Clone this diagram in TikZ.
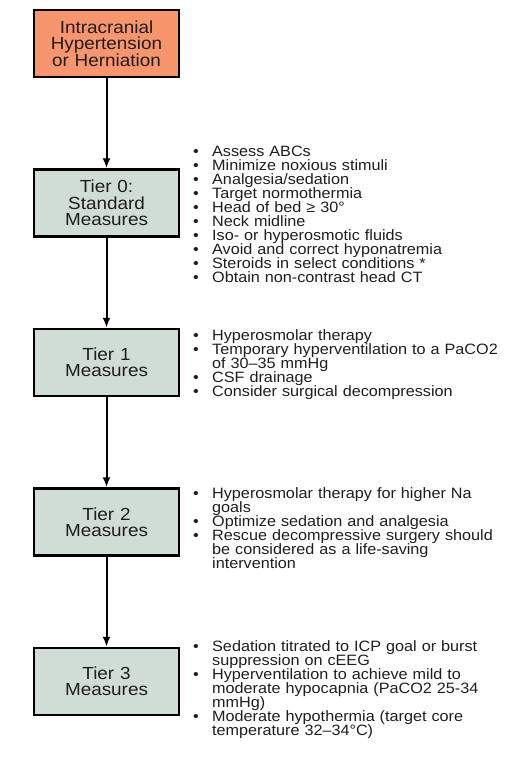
\documentclass[tikz,border=0pt]{standalone}
\usepackage{fontspec}
\setmainfont{Liberation Sans}[FakeStretch=1.08]
\usepackage{xcolor}
\usetikzlibrary{positioning}
\usetikzlibrary{arrows.meta,shapes}
\definecolor{herniation}{HTML}{F7956C}
\definecolor{tierfill}{HTML}{D0DDD5}
\definecolor{ink}{HTML}{1E1E1E}
\newcommand{\itm}{\par\noindent\hangindent=19bp\hangafter=1\makebox[19bp][l]{\textbullet}}

\begin{document}
\begin{tikzpicture}[x=1bp,y=-1bp,node distance=159.5bp,on grid,
  tier/.style={draw,line width=2.5bp,fill=tierfill,text=ink,minimum width=145bp,minimum height=67bp,
    text width=140bp,align=center,inner sep=0pt,font=\fontsize{17.5bp}{16.4bp}\selectfont},
  steps/.style={anchor=north west,inner sep=0pt,text width=320bp,align=left,text=ink,
    font=\fontsize{15bp}{14bp}\selectfont},
  arr/.style={line width=2bp,-{Latex[length=10bp,width=8bp]}}]
  \useasboundingbox (0,0) rectangle (513,763);
  \node[tier,fill=herniation] (ich) at (106.5,43.5) {Intracranial\\Hypertension\\or Herniation};
  \node[tier] (t0) [below=of ich] {Tier 0:\\Standard\\Measures};
  \node[tier] (t1) [below=of t0] {Tier 1\\Measures};
  \node[tier] (t2) [below=of t1] {Tier 2\\Measures};
  \node[tier] (t3) [below=of t2] {Tier 3\\Measures};

  \node[steps] (s0) at (193,142.5) {\itm Assess ABCs
    \itm Minimize noxious stimuli
    \itm Analgesia/sedation
    \itm Target normothermia
    \itm Head of bed ≥ 30°
    \itm Neck midline
    \itm Iso- or hyperosmotic fluids
    \itm Avoid and correct hyponatremia
    \itm Steroids in select conditions *
    \itm Obtain non-contrast head CT\par};
  \node[steps] (s1) at (193,326.5) {\itm Hyperosmolar therapy
    \itm Temporary hyperventilation to a PaCO2\newline of 30–35 mmHg
    \itm CSF drainage
    \itm Consider surgical decompression\par};
  \node[steps] (s2) at (193,484) {\itm Hyperosmolar therapy for higher Na\newline goals
    \itm Optimize sedation and analgesia
    \itm Rescue decompressive surgery should\newline be considered as a life-saving\newline intervention\par};
  \node[steps] (s3) at (193,637.5) {\itm Sedation titrated to ICP goal or burst\newline suppression on cEEG
    \itm Hyperventilation to achieve mild to\newline moderate hypocapnia (PaCO2 25-34\newline mmHg)
    \itm Moderate hypothermia (target core\newline temperature 32–34°C)\par};

  \draw[arr] (ich) -- (t0);
  \draw[arr] (t0) -- (t1);
  \draw[arr] (t1) -- (t2);
  \draw[arr] (t2) -- (t3);
\end{tikzpicture}
\end{document}
